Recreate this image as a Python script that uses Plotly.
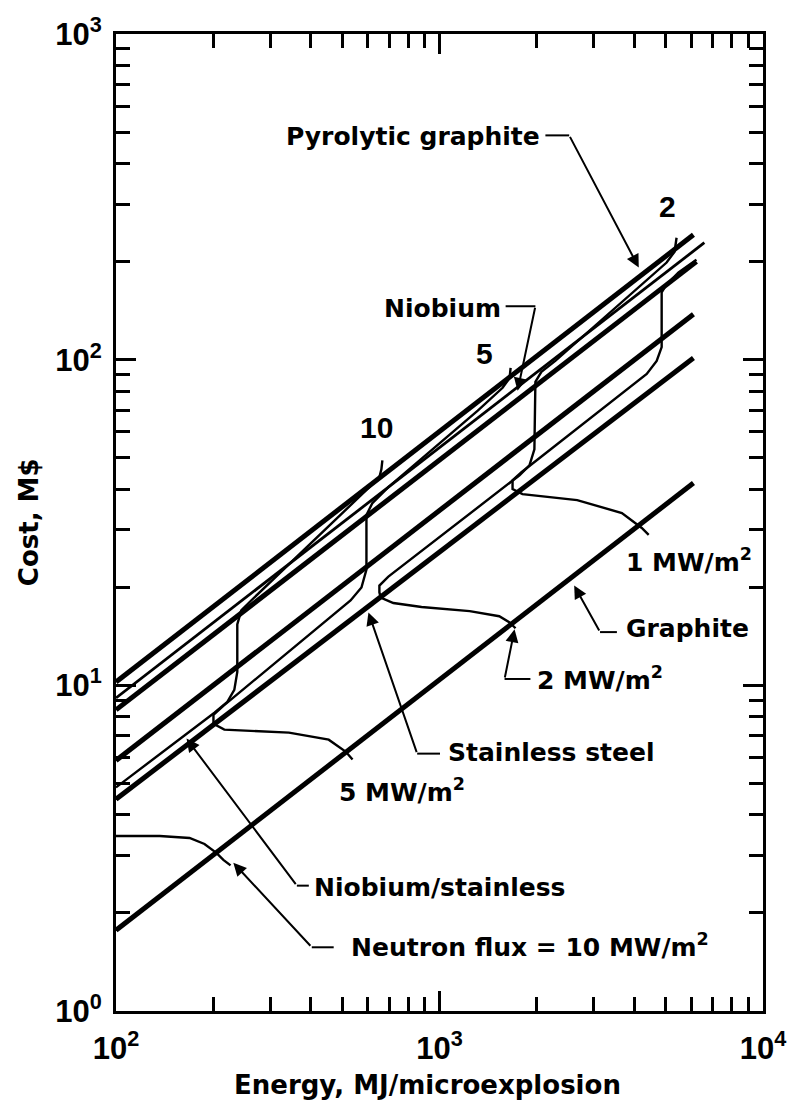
import math
import plotly.graph_objects as go

# ---- material cost lines: energy per microexplosion (MJ) -> cost (M$) ----
pyro_energy = [100, 6095]
pyro_cost = [10.24, 241.8]
niobium_energy = [100, 6588]
niobium_cost = [9.15, 228.7]
line_c_energy = [100, 6227]
line_c_cost = [8.41, 200.0]
line_d_energy = [100, 6095]
line_d_cost = [5.88, 137.9]
steel_energy = [100, 6095]
steel_cost = [4.47, 101.2]
graphite_energy = [100, 6095]
graphite_cost = [1.77, 41.8]

# ---- constant neutron-flux curves ----
flux10_low_energy = [100, 136.5, 168.8, 187.7, 204.3, 214.7, 226.0]
flux10_low_cost = [3.446, 3.446, 3.399, 3.258, 3.058, 2.912, 2.80]
flux10_energy = [100, 201.5, 220.9, 232.1, 237.1, 237.1, 243.9, 261.7, 611.6, 651.9, 661.2, 665.9]
flux10_cost = [4.86, 8.24, 8.90, 9.68, 10.99, 15.39, 16.99, 18.22, 40.88, 43.55, 46.07, 49.08]

flux5_energy = [538.5, 512.5, 454.5, 342.4, 216.2, 200.1, 200.1, 214.7, 530.9, 573.8,
                594.5, 594.5, 620.3, 694.9, 1313, 1567, 1647, 1659]
flux5_cost = [5.92, 6.26, 6.81, 7.16, 7.31, 7.62, 8.12, 8.65, 18.22, 19.97,
              22.66, 33.34, 36.28, 40.6, 69.7, 81.96, 87.9, 94.3]

flux2_energy = [1718, 1647, 1530, 1240, 880, 720, 658, 651.9, 651.9, 694.9, 1767, 1897,
                1965, 1979, 2065, 2280, 5035, 5329, 5405]
flux2_cost = [14.97, 15.61, 16.3, 16.9, 17.4, 17.9, 18.6, 19.3, 20.25, 21.57, 44.17, 47.38,
              53.03, 85.5, 91.7, 99.1, 198.7, 214.6, 236.8]

flux1_energy = [4433, 4219, 3663, 2664, 1805, 1682, 1682, 1792, 4371, 4692,
                4861, 4861, 5035, 5482, 6227]
flux1_cost = [28.97, 30.43, 33.81, 37.05, 38.65, 40.04, 42.65, 45.11, 90.4, 99.1,
              109.3, 160.9, 170.2, 185.2, 202.9]

x_major = [100, 1000, 10000]
x_major_text = ["10<sup>2</sup>", "10<sup>3</sup>", "10<sup>4</sup>"]
x_minor = [m * d for d in (100, 1000) for m in range(2, 10)]
y_major = [1, 10, 100, 1000]
y_major_text = ["10<sup>0</sup>", "10<sup>1</sup>", "10<sup>2</sup>", "10<sup>3</sup>"]
y_minor = [m * d for d in (1, 10, 100) for m in range(2, 10)]

INK = "black"
WORD_FONT = "DejaVu Sans"
DIGIT_FONT = "Liberation Sans"
THICK = 5.0
THIN = 2.4

fig = go.Figure()


def add_line(xs, ys, width):
    fig.add_trace(go.Scatter(x=xs, y=ys, mode="lines",
                             line=dict(color=INK, width=width),
                             hoverinfo="skip"))


for xs, ys, w in [
    (pyro_energy, pyro_cost, THICK),
    (niobium_energy, niobium_cost, THIN + 0.4),
    (line_c_energy, line_c_cost, THICK),
    (line_d_energy, line_d_cost, THICK),
    (steel_energy, steel_cost, THICK),
    (graphite_energy, graphite_cost, THICK),
    (flux10_low_energy, flux10_low_cost, THIN),
    (flux10_energy, flux10_cost, THIN),
    (flux5_energy, flux5_cost, THIN),
    (flux2_energy, flux2_cost, THIN),
    (flux1_energy, flux1_cost, THIN),
]:
    add_line(xs, ys, w)

L = math.log10
annotations = []


def label(text, e, c, anchor="left", size=25, family=WORD_FONT):
    annotations.append(dict(x=L(e), y=L(c), xref="x", yref="y", text="<b>%s</b>" % text,
                            showarrow=False, xanchor=anchor, yanchor="middle",
                            font=dict(family=family, size=size, color=INK)))


def leader(text_end, elbow, tip):
    # short horizontal run from the text, then an arrow to the curve
    add_line([text_end[0], elbow[0]], [text_end[1], elbow[1]], 2.0)
    annotations.append(dict(x=L(tip[0]), y=L(tip[1]), ax=L(elbow[0]), ay=L(elbow[1]),
                            xref="x", yref="y", axref="x", ayref="y", text="",
                            showarrow=True, arrowhead=2, arrowsize=1.3,
                            arrowwidth=2.0, arrowcolor=INK))


label("Pyrolytic graphite", 2080, 485, "right")
leader((2125, 488.3), (2517, 488.3), (4130, 191.8))
label("Niobium", 1567, 143.8, "right")
leader((1601, 145.9), (1979, 145.9), (1743, 80.25))
label("Graphite", 3714, 14.97)
leader((3535, 14.57), (3135, 14.57), (2608, 20.25))
label("1 MW/m<sup>2</sup>", 3714, 24.14)
label("2 MW/m<sup>2</sup>", 1979, 10.46)
leader((1910, 10.46), (1589, 10.46), (1706, 14.86))
label("Stainless steel", 1047, 6.22)
leader((1003.5, 6.17), (853, 6.17), (603, 16.75))
label("5 MW/m<sup>2</sup>", 480.8, 4.76)
label("Niobium/stainless", 402.9, 2.392)
leader((394.5, 2.426), (362.3, 2.426), (165.2, 6.862))
label("Neutron flux = 10 MW/m<sup>2</sup>", 523.6, 1.591)
leader((470.9, 1.569), (402.9, 1.569), (230.5, 2.851))
label("10", 638.1, 61.9, "center", 30, DIGIT_FONT)
label("5", 1380, 104.1, "center", 30, DIGIT_FONT)
label("2", 5071, 294.4, "center", 30, DIGIT_FONT)

# axis titles
annotations.append(dict(x=0.481, y=-0.0753, xref="paper", yref="paper",
                        xanchor="center", yanchor="middle",
                        text="<b>Energy, MJ/microexplosion</b>", showarrow=False,
                        font=dict(family=WORD_FONT, size=26, color=INK)))
annotations.append(dict(x=-0.135, y=0.50, xref="paper", yref="paper",
                        xanchor="center", yanchor="middle",
                        text="<b>Cost, M$</b>", showarrow=False, textangle=-90,
                        font=dict(family=WORD_FONT, size=26, color=INK)))

axis_common = dict(type="log", showgrid=False, zeroline=False, ticks="inside",
                   ticklen=20, tickwidth=3, tickcolor=INK, linecolor=INK,
                   linewidth=3, mirror="ticks",
                   tickfont=dict(family=DIGIT_FONT, size=31, color=INK))

fig.update_layout(
    width=798, height=1104,
    margin=dict(l=116, r=31, t=28, b=93),
    paper_bgcolor="white", plot_bgcolor="white",
    showlegend=False,
    annotations=annotations,
    xaxis=dict(axis_common, range=[2, 4], tickmode="array", tickvals=x_major,
               ticktext=["<b>%s</b>" % t for t in x_major_text], ticklabelstandoff=8,
               minor=dict(tickmode="array", tickvals=x_minor, ticks="inside", ticklen=14,
                          tickwidth=2.5, tickcolor=INK, showgrid=False)),
    yaxis=dict(axis_common, range=[0, 3], tickmode="array", tickvals=y_major,
               ticktext=["<b>%s</b>" % t for t in y_major_text], ticklabelstandoff=5,
               minor=dict(tickmode="array", tickvals=y_minor, ticks="inside", ticklen=14,
                          tickwidth=2.5, tickcolor=INK, showgrid=False)),
)

fig.write_html("out.html")
